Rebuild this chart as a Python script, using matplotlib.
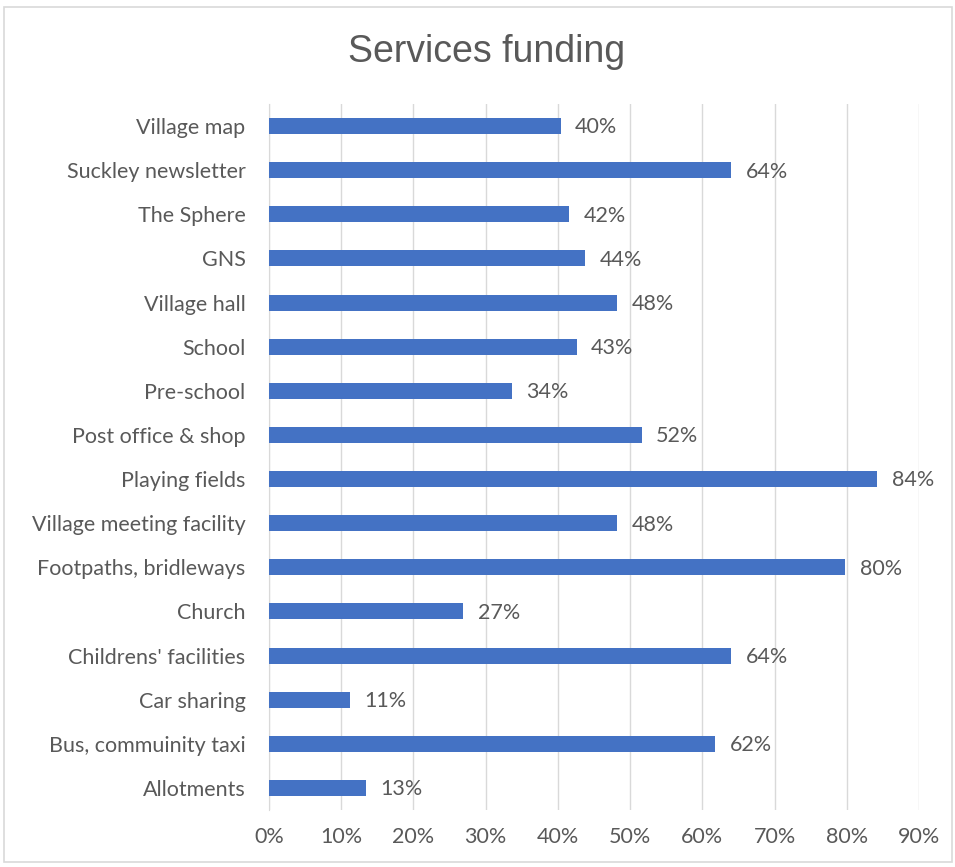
import matplotlib
matplotlib.use("Agg")
import matplotlib.pyplot as plt
from matplotlib.ticker import PercentFormatter, MultipleLocator
from matplotlib.patches import Rectangle

categories = ["Village map", "Suckley newsletter", "The Sphere", "GNS", "Village hall",
              "School", "Pre-school", "Post office & shop", "Playing fields",
              "Village meeting facility", "Footpaths, bridleways", "Church",
              "Childrens' facilities", "Car sharing", "Bus, commuinity taxi", "Allotments"]
values = [0.404, 0.64, 0.416, 0.438, 0.482, 0.426, 0.336, 0.516, 0.842,
          0.482, 0.798, 0.269, 0.64, 0.112, 0.618, 0.134]

plt.rcParams['font.family'] = ['Lato', 'DejaVu Sans']
text_color = '#595959'

fig = plt.figure(figsize=(9.55, 8.67), dpi=100)
ax = fig.add_axes([269/955, 1-810/867, 650/955, (810-104)/867])

y = list(range(len(categories)))
ax.barh(y, values, height=0.36, color='#4472C4', zorder=3)
ax.set_yticks(y)
ax.set_yticklabels(categories)
ax.set_ylim(len(categories)-0.5, -0.5)
ax.set_xlim(0, 0.9)
ax.xaxis.set_major_locator(MultipleLocator(0.1))
ax.xaxis.set_major_formatter(PercentFormatter(1.0, decimals=0))
ax.grid(axis='x', color='#D9D9D9', linewidth=1, zorder=0)
for s in ['top', 'right', 'bottom']:
    ax.spines[s].set_visible(False)
ax.spines['left'].set_color('#D9D9D9')
ax.tick_params(axis='both', length=0, labelsize=15.5, colors=text_color)
ax.tick_params(axis='y', pad=17)
ax.tick_params(axis='x', pad=12)

for yi, v in zip(y, values):
    ax.text(v + 0.02, yi + 0.03, f"{v*100:.0f}%", va='center', ha='left',
            fontsize=15.5, color=text_color)

fig.text(487/955, 1-52/867, "Services funding", ha='center', va='center',
         fontsize=27, color=text_color, family=['Liberation Sans', 'DejaVu Sans'])

fig.patches.append(Rectangle((4/955, 1-862/867), 948/955, 855/867, transform=fig.transFigure,
                             fill=False, edgecolor='#D9D9D9', linewidth=1.2))

fig.savefig("out.png", dpi=100)
